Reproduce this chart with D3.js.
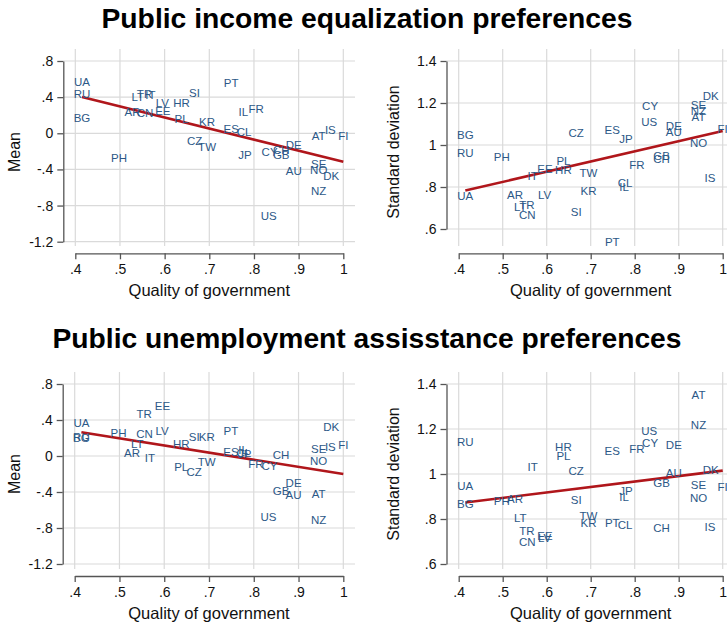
<!DOCTYPE html>
<html>
<head>
<meta charset="utf-8">
<script src="https://cdn.jsdelivr.net/npm/d3@7/dist/d3.min.js"></script>
<style>
  html, body { margin: 0; padding: 0; background: #fff; }
  svg { display: block; font-family: "Liberation Sans", Arial, sans-serif; }
</style>
</head>
<body>
<svg id="chart" width="727" height="629"></svg>
<script>
// Country codes and their quality-of-government score
const countries = ["UA","RU","BG","PH","AR","LT","TR","CN","IT","LV","EE","HR","PL","SI","CZ","KR","TW","PT","ES","IL","CL","JP","FR","US","CY","CH","GB","DE","AU","AT","SE","NO","NZ","IS","DK","FI"];
const qog = [.415,.415,.415,.498,.528,.540,.555,.556,.568,.595,.596,.638,.638,.667,.667,.695,.695,.749,.749,.776,.778,.780,.805,.833,.835,.861,.861,.889,.889,.945,.945,.945,.945,.971,.973,1.0];

// Public income equalization preferences
const incomeMean = [.571,.438,.165,-.27,.24,.40,.43,.22,.42,.34,.245,.34,.16,.45,-.08,.128,-.148,.556,.044,.24,.018,-.24,.265,-.912,-.207,-.18,-.24,-.133,-.418,-.03,-.343,-.406,-.64,.036,-.473,-.03];
const incomeSD = [.759,.96,1.048,.941,.762,.706,.714,.668,.854,.762,.886,.881,.925,.683,1.057,.783,.868,.54,1.07,.802,.821,1.03,.905,1.111,1.184,.935,.949,1.09,1.06,1.132,1.189,1.008,1.162,.841,1.233,1.078];

// Public unemployment assistance preferences
const unempMean = [.363,.215,.2,.26,.037,.133,.467,.244,-.019,.278,.556,.13,-.118,.215,-.178,.215,-.063,.274,.04,.067,.03,.018,-.089,-.674,-.111,.011,-.389,-.304,-.433,-.422,.074,-.052,-.711,.104,.326,.122];
const unempSD = [.945,1.144,.867,.878,.887,.804,.747,.696,1.03,.714,.724,1.119,1.08,.884,1.013,.781,.815,.784,1.104,.896,.775,.923,1.11,1.191,1.136,.759,.96,1.127,1.006,1.351,.951,.892,1.218,.766,1.02,.942];

// Linear fit values at the lowest and highest quality-of-government score
const fitIncomeMean = [.401, -.315];
const fitIncomeSD = [.783, 1.067];
const fitUnempMean = [.263, -.200];
const fitUnempSD = [.873, 1.015];

// Axis ticks
const xTicks = [.4,.5,.6,.7,.8,.9,1];
const meanTicks = [-1.2,-.8,-.4,0,.4,.8];
const sdTicks = [.6,.8,1,1.2,1.4];

const titles = ["Public income equalization preferences", "Public unemployment assisstance preferences"];
const xTitle = "Quality of government";

const svg = d3.select("#chart");
const labelColor = "#2c5887";
const fitColor = "#b0161b";
const gridColor = "#dadada";
const axisColor = "#555";

// Stata-style tick labels: no leading zero
const fmt = v => {
  const s = String(+v.toFixed(1));
  return s.replace(/^(-?)0\./, "$1.");
};

const panels = [
  { vals: incomeMean, fit: fitIncomeMean, yTicks: meanTicks, yTitle: "Mean", xr: [75.3, 343.3], yr: [241.7, 61], axisX: 63.3, axisY: 253.3, gTop: 49, gBot: 246, gRight: 355, yTitleX: 14, yTitleY: 152 },
  { vals: incomeSD, fit: fitIncomeSD, yTicks: sdTicks, yTitle: "Standard deviation", xr: [458.7, 722.7], yr: [229, 61], axisX: 446.5, axisY: 253.3, gTop: 49, gBot: 246, gRight: 734, yTitleX: 393, yTitleY: 152 },
  { vals: unempMean, fit: fitUnempMean, yTicks: meanTicks, yTitle: "Mean", xr: [74.7, 343.3], yr: [564, 384], axisX: 62.7, axisY: 576, gTop: 372, gBot: 569, gRight: 355, yTitleX: 14, yTitleY: 474 },
  { vals: unempSD, fit: fitUnempSD, yTicks: sdTicks, yTitle: "Standard deviation", xr: [458.7, 722.7], yr: [564, 384], axisX: 446.5, axisY: 576, gTop: 372, gBot: 569, gRight: 734, yTitleX: 393, yTitleY: 474 }
];

// Section titles
svg.append("text").attr("x", 367).attr("y", 28)
  .attr("text-anchor", "middle").attr("font-size", 28).attr("font-weight", "bold")
  .attr("textLength", 531).attr("lengthAdjust", "spacingAndGlyphs")
  .text(titles[0]);
svg.append("text").attr("x", 367).attr("y", 348)
  .attr("text-anchor", "middle").attr("font-size", 28).attr("font-weight", "bold")
  .attr("textLength", 629).attr("lengthAdjust", "spacingAndGlyphs")
  .text(titles[1]);

panels.forEach(p => {
  const x = d3.scaleLinear().domain([.4, 1]).range(p.xr);
  const y = d3.scaleLinear().domain(d3.extent(p.yTicks)).range(p.yr);
  const g = svg.append("g");

  // grid
  g.append("g").selectAll("line").data(xTicks).join("line")
    .attr("x1", d => x(d)).attr("x2", d => x(d))
    .attr("y1", p.gTop).attr("y2", p.gBot)
    .attr("stroke", gridColor).attr("stroke-width", 1.2);
  g.append("g").selectAll("line").data(p.yTicks).join("line")
    .attr("x1", p.axisX).attr("x2", p.gRight)
    .attr("y1", d => y(d)).attr("y2", d => y(d))
    .attr("stroke", gridColor).attr("stroke-width", 1.2);

  // axes
  const ya = g.append("g").attr("transform", `translate(${p.axisX},0)`)
    .call(d3.axisLeft(y).tickValues(p.yTicks).tickFormat(fmt).tickSize(6).tickSizeOuter(0).tickPadding(4));
  const xa = g.append("g").attr("transform", `translate(0,${p.axisY})`)
    .call(d3.axisBottom(x).tickValues(xTicks).tickFormat(fmt).tickSize(6).tickSizeOuter(0).tickPadding(5));
  [ya, xa].forEach(a => {
    a.attr("font-family", null).attr("font-size", 14);
    a.selectAll("path, line").attr("stroke", axisColor).attr("stroke-width", 1.3);
    a.selectAll("text").attr("fill", "#111");
  });

  // axis titles
  g.append("text")
    .attr("transform", `translate(${p.yTitleX},${p.yTitleY}) rotate(-90)`)
    .attr("text-anchor", "middle").attr("dominant-baseline", "central")
    .attr("font-size", 16).attr("fill", "#111").text(p.yTitle);
  g.append("text")
    .attr("x", (p.xr[0] + p.xr[1]) / 2).attr("y", p.axisY + 43)
    .attr("text-anchor", "middle").attr("font-size", 16.5).attr("fill", "#111")
    .text(xTitle);

  // fitted line across the observed range of quality of government
  const xe = d3.extent(qog);
  g.append("line")
    .attr("x1", x(xe[0])).attr("y1", y(p.fit[0]))
    .attr("x2", x(xe[1])).attr("y2", y(p.fit[1]))
    .attr("stroke", fitColor).attr("stroke-width", 2.6);

  // country labels as markers
  g.append("g").selectAll("text").data(countries).join("text")
    .attr("x", (d, i) => x(qog[i])).attr("y", (d, i) => y(p.vals[i]))
    .attr("text-anchor", "middle").attr("dominant-baseline", "central")
    .attr("font-size", 11.5).attr("fill", labelColor)
    .text(d => d);
});
</script>
</body>
</html>
